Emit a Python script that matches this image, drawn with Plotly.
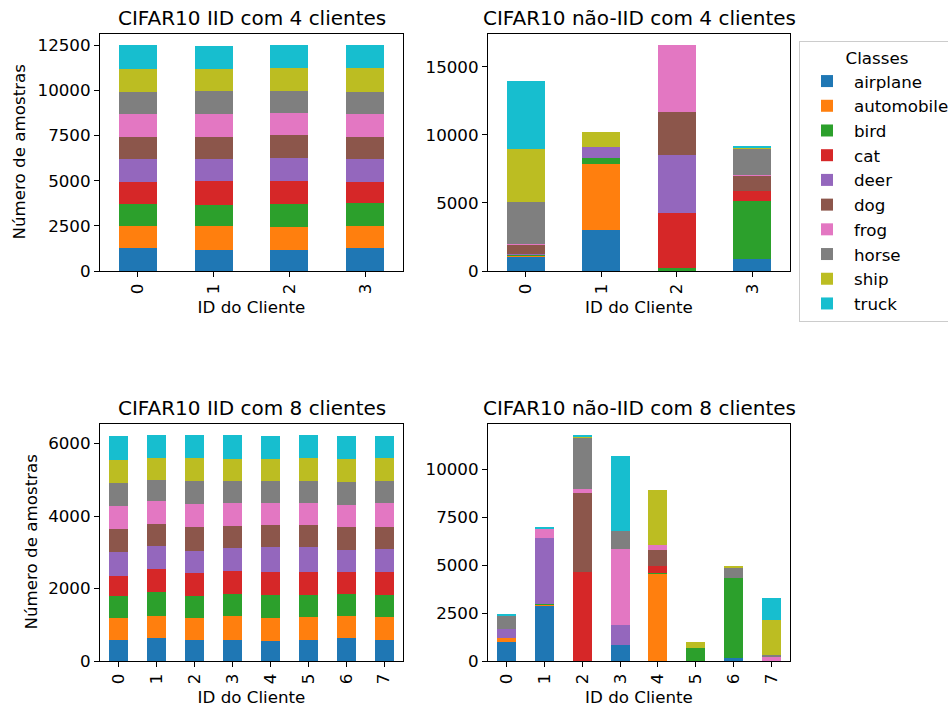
import plotly.graph_objects as go

classes = ["airplane", "automobile", "bird", "cat", "deer", "dog", "frog", "horse", "ship", "truck"]
colors = ["#1f77b4", "#ff7f0e", "#2ca02c", "#d62728", "#9467bd", "#8c564b", "#e377c2", "#7f7f7f", "#bcbd22", "#17becf"]

# rows = clients, columns = classes
iid4 = [
    [1260, 1230, 1240, 1210, 1270, 1230, 1270, 1220, 1280, 1290],
    [1170, 1315, 1170, 1330, 1225, 1225, 1275, 1275, 1225, 1275],
    [1170, 1260, 1295, 1260, 1280, 1275, 1225, 1225, 1225, 1275],
    [1260, 1225, 1280, 1165, 1280, 1225, 1280, 1225, 1280, 1280],
]
noniid4 = [
    [1010, 150, 20, 60, 10, 720, 5, 3100, 3910, 4945],
    [3000, 4870, 440, 0, 810, 0, 0, 0, 1110, 0],
    [0, 0, 200, 4060, 4280, 3170, 4870, 0, 0, 0],
    [860, 0, 4280, 740, 0, 1105, 70, 1920, 90, 60],
]
iid8 = [
    [590, 608, 590, 571, 636, 636, 636, 636, 636, 664],
    [645, 608, 664, 636, 608, 608, 636, 581, 608, 636],
    [590, 608, 608, 636, 608, 636, 636, 636, 636, 636],
    [590, 664, 608, 636, 608, 608, 636, 608, 608, 664],
    [562, 636, 636, 636, 664, 608, 608, 608, 608, 636],
    [590, 636, 608, 636, 664, 608, 608, 608, 636, 636],
    [645, 608, 608, 608, 608, 608, 608, 636, 636, 636],
    [590, 636, 608, 636, 608, 608, 664, 608, 636, 608],
]
noniid8 = [
    [1010, 210, 0, 0, 470, 0, 0, 660, 0, 70],
    [2890, 70, 20, 0, 3460, 0, 490, 0, 0, 40],
    [0, 0, 0, 4620, 0, 4130, 210, 2720, 50, 50],
    [855, 0, 0, 0, 1045, 0, 3920, 940, 0, 3920],
    [20, 4545, 50, 330, 0, 870, 260, 0, 2870, 0],
    [20, 0, 680, 0, 0, 0, 0, 0, 310, 0],
    [155, 0, 4200, 0, 0, 0, 0, 520, 50, 0],
    [0, 0, 0, 0, 20, 0, 210, 105, 1830, 1100],
]

titles = ["CIFAR10 IID com 4 clientes", "CIFAR10 não-IID com 4 clientes",
          "CIFAR10 IID com 8 clientes", "CIFAR10 não-IID com 8 clientes"]
datasets = [iid4, noniid4, iid8, noniid8]
dticks = [2500, 5000, 2000, 2500]
ylabel = "Número de amostras"
xlabel = "ID do Cliente"

W, H = 948, 707
FONT = "DejaVu Sans"
FS = 16.7
TFS = 20

# panel boxes in pixels: (left, right, top, bottom)
boxes = [(100, 403, 34, 271), (488, 790, 34, 271),
         (100, 403, 424, 661), (488, 790, 424, 661)]
ylabel_x = {0: 18, 2: 30}

fig = go.Figure()
layout = {}
annotations = []
for i, (data, box) in enumerate(zip(datasets, boxes)):
    ax = "" if i == 0 else str(i + 1)
    n = len(data)
    clients = [str(c) for c in range(n)]
    for k, cls in enumerate(classes):
        fig.add_trace(go.Bar(
            x=list(range(n)), y=[row[k] for row in data], name=cls,
            marker=dict(color=colors[k], line=dict(width=0)),
            legendgroup=cls, showlegend=(i == 1),
            xaxis="x" + ax, yaxis="y" + ax,
        ))
    ymax = max(sum(r) for r in data) * 1.05
    l, r, t, b = box
    layout["xaxis" + ax] = dict(
        domain=[l / W, r / W], anchor="y" + ax, range=[-0.5, n - 0.5],
        tickmode="array", tickvals=list(range(n)), ticktext=clients,
        tickangle=-90, ticks="outside", ticklen=5, tickwidth=1.1, tickcolor="black",
        showline=True, linecolor="black", linewidth=1.1, mirror=True,
        showgrid=False, zeroline=False,
        title=dict(text=xlabel, font=dict(size=FS, color="black", family=FONT), standoff=7),
        tickfont=dict(size=FS, color="black", family=FONT),
    )
    layout["yaxis" + ax] = dict(
        domain=[1 - b / H, 1 - t / H], anchor="x" + ax, range=[0, ymax],
        tickmode="linear", tick0=0, dtick=dticks[i], tickformat="d",
        ticks="outside", ticklen=5, tickwidth=1.1, tickcolor="black",
        showline=True, linecolor="black", linewidth=1.1, mirror=True,
        showgrid=False, zeroline=False,
        tickfont=dict(size=FS, color="black", family=FONT),
    )
    annotations.append(dict(
        text=titles[i], x=(l + r) / 2 / W, y=1 - (t - 2) / H,
        xref="paper", yref="paper", xanchor="center", yanchor="bottom",
        showarrow=False, font=dict(size=TFS, color="black", family=FONT),
    ))
    if i in ylabel_x:
        annotations.append(dict(
            text=ylabel, x=ylabel_x[i] / W, y=1 - (t + b) / 2 / H,
            xref="paper", yref="paper", xanchor="center", yanchor="middle",
            textangle=-90, showarrow=False,
            font=dict(size=FS, color="black", family=FONT),
        ))

fig.update_layout(
    **layout,
    annotations=annotations,
    barmode="stack", bargap=0.5,
    width=W, height=H,
    margin=dict(l=0, r=0, t=0, b=0, autoexpand=False),
    plot_bgcolor="white", paper_bgcolor="white",
    font=dict(family=FONT, size=FS, color="black"),
    legend=dict(
        x=799 / W, y=1 - 41 / H, xanchor="left", yanchor="top",
        bordercolor="#cccccc", borderwidth=1, bgcolor="white",
        title=dict(text="Classes", side="top center", font=dict(size=FS, family=FONT)),
        font=dict(size=FS, family=FONT), tracegroupgap=0, itemwidth=44,
        traceorder="normal",
    ),
)

fig.write_html("out.html", config={"displayModeBar": False},
               post_script="document.body.style.margin='0';")
